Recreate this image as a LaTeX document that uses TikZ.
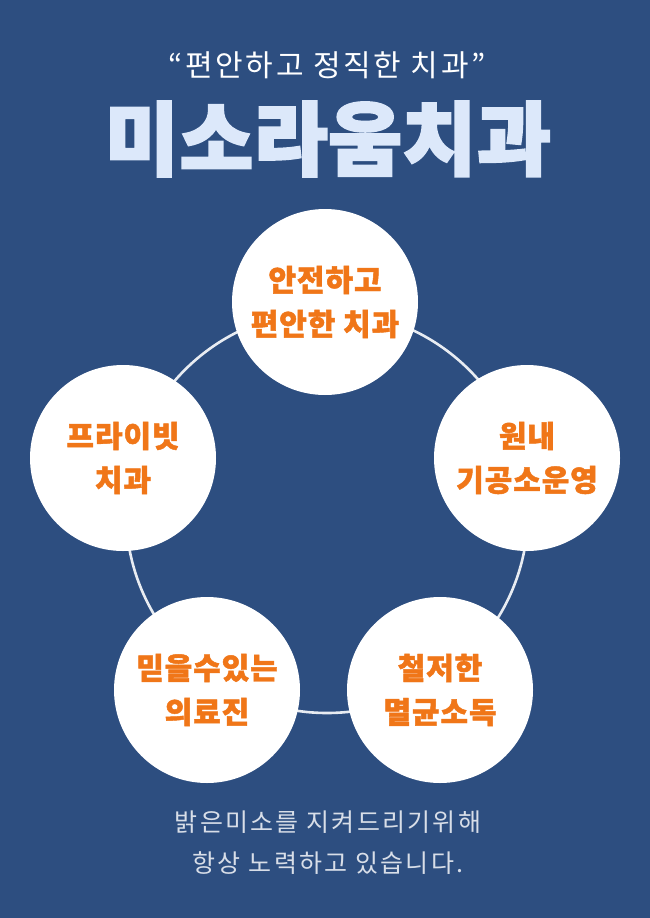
\documentclass[tikz,border=0pt]{standalone}
\usepackage{fontspec}
\newfontfamily\kr{Noto Sans CJK KR}
\newfontfamily\krsub{Noto Sans CJK KR}[LetterSpace=9]
\newfontfamily\krfoot{Noto Sans CJK KR}[LetterSpace=9]
\newfontfamily\krbub{Noto Sans CJK KR}[LetterSpace=3,BoldFeatures={FakeBold=1.5}]
\newfontfamily\krheavy{Noto Sans CJK KR}[LetterSpace=1,BoldFeatures={FakeBold=3}]
\definecolor{bg}{RGB}{45,78,128}
\definecolor{orangetxt}{RGB}{240,118,24}
\definecolor{titleblue}{RGB}{220,232,250}
\definecolor{ringcol}{RGB}{232,236,242}
\definecolor{foot}{RGB}{216,222,232}
\begin{document}
\begin{tikzpicture}[x=1pt,y=-1pt,
  bubble/.style={circle, fill=white, minimum size=186pt, inner sep=0pt, align=center,
    text=orangetxt, font=\krbub\bfseries\fontsize{30}{44}\selectfont},
  ringline/.style={draw=ringcol, line width=2.6pt}]
\fill[bg] (0,0) rectangle (650,918);
\useasboundingbox (0,0) rectangle (650,918);
\node[text=white, font=\krsub\fontsize{30}{34}\selectfont] (sub) at (327,65) {“편안하고 정직한 치과”};
\node[text=titleblue, font=\krheavy\bfseries\fontsize{80}{84}\selectfont] (title) at (328,139) {미소라움치과};
\coordinate (rc) at (327,512);
\draw[ringline] (rc) circle[radius=201pt];
\node[bubble] (c1) at (325,302) {안전하고\\편안한 치과};
\node[bubble] (c2) at (527,458) {원내\\기공소운영};
\node[bubble] (c3) at (440,690) {철저한\\멸균소독};
\node[bubble] (c4) at (207,690) {믿을수있는\\의료진};
\node[bubble] (c5) at (123,458) {프라이빗\\치과};
\node[text=foot, align=center, font=\krfoot\fontsize{25}{41}\selectfont] (foottext) at (328,843) {밝은미소를 지켜드리기위해\\항상 노력하고 있습니다.};
\end{tikzpicture}
\end{document}
